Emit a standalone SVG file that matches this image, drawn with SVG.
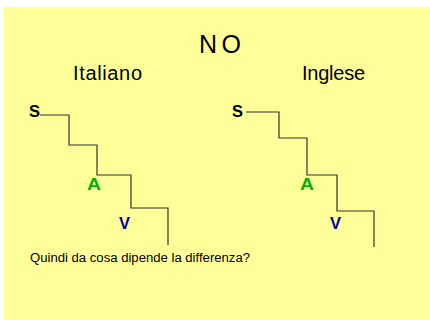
<svg xmlns="http://www.w3.org/2000/svg" width="430" height="320" viewBox="0 0 430 320">
<style>
.t{font-family:"Liberation Sans",Arial,sans-serif;fill:#000}
.lbl{font-family:"Liberation Sans",Arial,sans-serif;font-weight:bold;font-size:17px}
.stair{fill:none;stroke:#333;stroke-width:1.2}
</style>
<rect x="4" y="7" width="426" height="313" fill="#FFFF99"/>
<text class="t" x="220" y="53" font-size="25" text-anchor="middle" textLength="42">N O</text>
<text class="t" x="73" y="80" font-size="20" textLength="69">Italiano</text>
<text class="t" x="302" y="80" font-size="20" textLength="63">Inglese</text>
<g id="left">
<text class="lbl" x="29" y="117" fill="#000" textLength="11" lengthAdjust="spacingAndGlyphs">S</text>
<text class="lbl" x="87" y="190" fill="#00B000" textLength="14" lengthAdjust="spacingAndGlyphs">A</text>
<text class="lbl" x="119" y="229" fill="#000099" textLength="11" lengthAdjust="spacingAndGlyphs">V</text>
</g>
<g id="right">
<text class="lbl" x="232" y="117" fill="#000" textLength="11" lengthAdjust="spacingAndGlyphs">S</text>
<text class="lbl" x="300" y="190" fill="#00B000" textLength="14" lengthAdjust="spacingAndGlyphs">A</text>
<text class="lbl" x="330" y="229" fill="#000099" textLength="11" lengthAdjust="spacingAndGlyphs">V</text>
</g>
<g id="connectors">
<path class="stair" d="M40 115 H69 V145 H97 V175 H131 V208 H168 V245"/>
<path class="stair" d="M246 112 H279 V138 H307 V175 H337 V211 H374 V247"/>
</g>
<text class="t" x="30" y="262" font-size="12" textLength="220" lengthAdjust="spacingAndGlyphs">Quindi da cosa dipende la differenza?</text>
</svg>
